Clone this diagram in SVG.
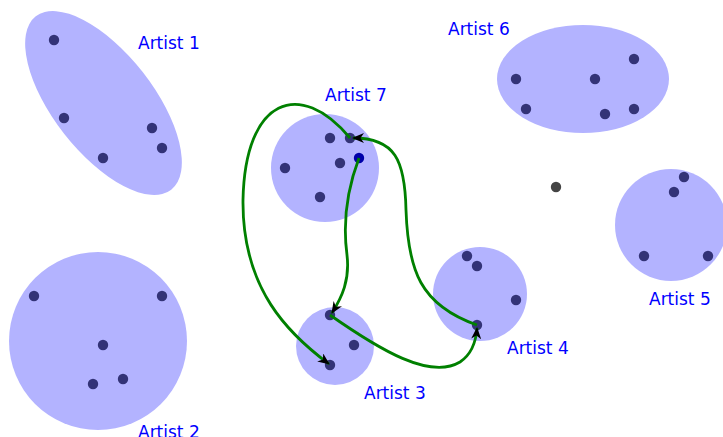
<svg xmlns="http://www.w3.org/2000/svg" width="723" height="437" viewBox="0 0 723 437">
<style>
.blob{fill:#b3b3ff;stroke:none}
.dot{fill:#333377}
.lbl{font-family:"DejaVu Sans",sans-serif;font-size:17px;fill:#0000ff}
.edge{fill:none;stroke:#008000;stroke-width:2.8;marker-end:url(#arr)}
</style>
<defs>
<marker id="arr" viewBox="0 0 12 10" refX="11" refY="5" markerWidth="12" markerHeight="10" markerUnits="userSpaceOnUse" orient="auto">
<path d="M0,0 L12,5 L0,10 L3.5,5 Z" fill="#000"/>
</marker>
</defs>
<rect width="723" height="437" fill="#fff"/>
<g id="artist1">
<ellipse class="blob" cx="103.5" cy="103" rx="110" ry="50" transform="rotate(52 103.5 103)"/>
<circle class="dot" cx="54" cy="40" r="5.2"/><circle class="dot" cx="64" cy="118" r="5.2"/><circle class="dot" cx="103" cy="158" r="5.2"/><circle class="dot" cx="152" cy="128" r="5.2"/><circle class="dot" cx="162" cy="148" r="5.2"/>
<text class="lbl" x="138" y="49">Artist 1</text>
</g>
<g id="artist2">
<circle class="blob" cx="98" cy="341" r="89"/>
<circle class="dot" cx="34" cy="296" r="5.2"/><circle class="dot" cx="162" cy="296" r="5.2"/><circle class="dot" cx="103" cy="345" r="5.2"/><circle class="dot" cx="93" cy="384" r="5.2"/><circle class="dot" cx="123" cy="379" r="5.2"/>
<text class="lbl" x="138" y="438">Artist 2</text>
</g>
<g id="artist3">
<circle class="blob" cx="335" cy="346" r="39"/>
<circle class="dot" cx="330" cy="315" r="5.2"/><circle class="dot" cx="354" cy="345" r="5.2"/><circle class="dot" cx="330" cy="365" r="5.2"/>
<text class="lbl" x="364" y="399">Artist 3</text>
</g>
<g id="artist4">
<circle class="blob" cx="480" cy="294" r="47"/>
<circle class="dot" cx="467" cy="256" r="5.2"/><circle class="dot" cx="477" cy="266" r="5.2"/><circle class="dot" cx="516" cy="300" r="5.2"/><circle class="dot" cx="477" cy="325" r="5.2"/>
<text class="lbl" x="507" y="354">Artist 4</text>
</g>
<g id="artist5">
<circle class="blob" cx="671" cy="225" r="56"/>
<circle class="dot" cx="684" cy="177" r="5.2"/><circle class="dot" cx="674" cy="192" r="5.2"/><circle class="dot" cx="644" cy="256" r="5.2"/><circle class="dot" cx="708" cy="256" r="5.2"/>
<text class="lbl" x="649" y="305">Artist 5</text>
</g>
<g id="artist6">
<ellipse class="blob" cx="583" cy="79" rx="86" ry="54"/>
<circle class="dot" cx="516" cy="79" r="5.2"/><circle class="dot" cx="526" cy="109" r="5.2"/><circle class="dot" cx="595" cy="79" r="5.2"/><circle class="dot" cx="605" cy="114" r="5.2"/><circle class="dot" cx="634" cy="59" r="5.2"/><circle class="dot" cx="634" cy="109" r="5.2"/>
<text class="lbl" x="448" y="35">Artist 6</text>
</g>
<g id="artist7">
<circle class="blob" cx="325" cy="168" r="54"/>
<circle class="dot" cx="330" cy="138" r="5.2"/><circle class="dot" cx="350" cy="138" r="5.2"/><circle class="dot" cx="285" cy="168" r="5.2"/><circle class="dot" cx="340" cy="163" r="5.2"/><circle class="dot" cx="320" cy="197" r="5.2"/>
<circle cx="359" cy="158" r="5.2" fill="#0000aa"/>
<text class="lbl" x="325" y="101">Artist 7</text>
</g>
<g id="lone">
<circle cx="556" cy="187" r="5.2" fill="#444"/>
</g>
<g id="connectors">
<path class="edge" d="M350,138 C300,78 245,98 243,200 C242,290 290,335 329,364"/>
<path class="edge" d="M359,158 C345,195 343,225 347,255 C350,280 342,297 332,313"/>
<path class="edge" d="M330,315 C380,350 430,380 460,362 C472,354 476,342 477,328"/>
<path class="edge" d="M477,325 C420,305 408,270 406,210 C405,160 395,138 353,138"/>
</g>
</svg>
